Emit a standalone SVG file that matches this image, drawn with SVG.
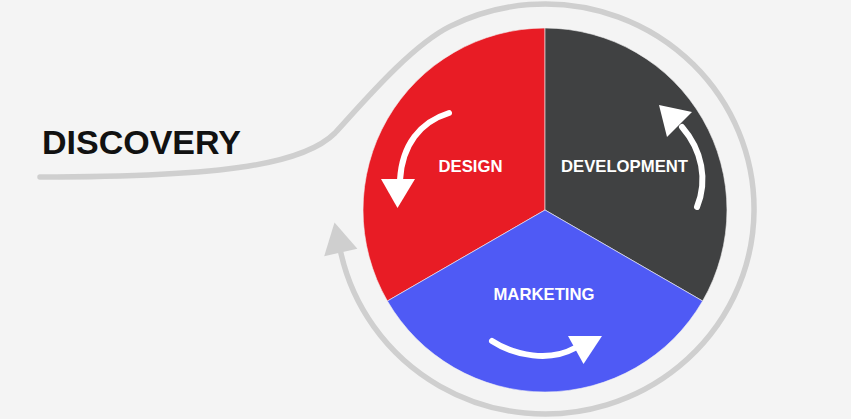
<svg xmlns="http://www.w3.org/2000/svg" width="851" height="419" viewBox="0 0 851 419">
  <defs>
    <style>
      .seg { stroke: #f4f4f4; stroke-width: 0.6; }
      .lbl { font-family: "Liberation Sans", Arial, sans-serif; font-weight: 700; font-size: 16.7px; fill: #ffffff; text-anchor: middle; }
      .title { font-family: "Liberation Sans", Arial, sans-serif; font-weight: 700; font-size: 34px; fill: #111111; }
      .warrow { fill: none; stroke: #ffffff; stroke-width: 6; stroke-linecap: round; }
      .whead { fill: #ffffff; }
      .ring { fill: none; stroke: #cfcfcf; stroke-width: 5.5; stroke-linecap: round; }
    </style>
  </defs>
  <rect width="851" height="419" fill="#f4f4f4"/>

  <g id="connectors">
    <path class="ring" d="M 40 177 C 230 177 305 163 335 133 C 360 106 409.8 46.5 450 26.4 A 209 205 0 1 1 340.8 252.5"/>
    <polygon fill="#cfcfcf" points="334.5,222.5 357.4,248.8 324.2,256.2"/>
  </g>

  <g id="discovery">
    <text class="title" x="42" y="154">DISCOVERY</text>
  </g>

  <g id="design">
    <path class="seg" fill="#e81c25" d="M 545 210 L 545 28 A 182 182 0 0 0 387.4 301 Z"/>
    <path class="warrow" d="M 449 113 C 420 122 402 145 400 180"/>
    <polygon class="whead" points="381,179 415,179 397.5,208"/>
    <text class="lbl" x="470.5" y="172">DESIGN</text>
  </g>

  <g id="development">
    <path class="seg" fill="#404142" d="M 545 210 L 545 28 A 182 182 0 0 1 702.6 301 Z"/>
    <path class="warrow" d="M 697 207 C 708 180 702 150 682 127"/>
    <polygon class="whead" points="659,105 692,112 667,137"/>
    <text class="lbl" x="624.5" y="172">DEVELOPMENT</text>
  </g>

  <g id="marketing">
    <path class="seg" fill="#4f5af5" d="M 545 210 L 702.6 301 A 182 182 0 0 1 387.4 301 Z"/>
    <path class="warrow" d="M 492 341 C 515 356 550 362 575 348"/>
    <polygon class="whead" points="568,336 602,336 583.5,364"/>
    <text class="lbl" x="544" y="300">MARKETING</text>
  </g>
</svg>
